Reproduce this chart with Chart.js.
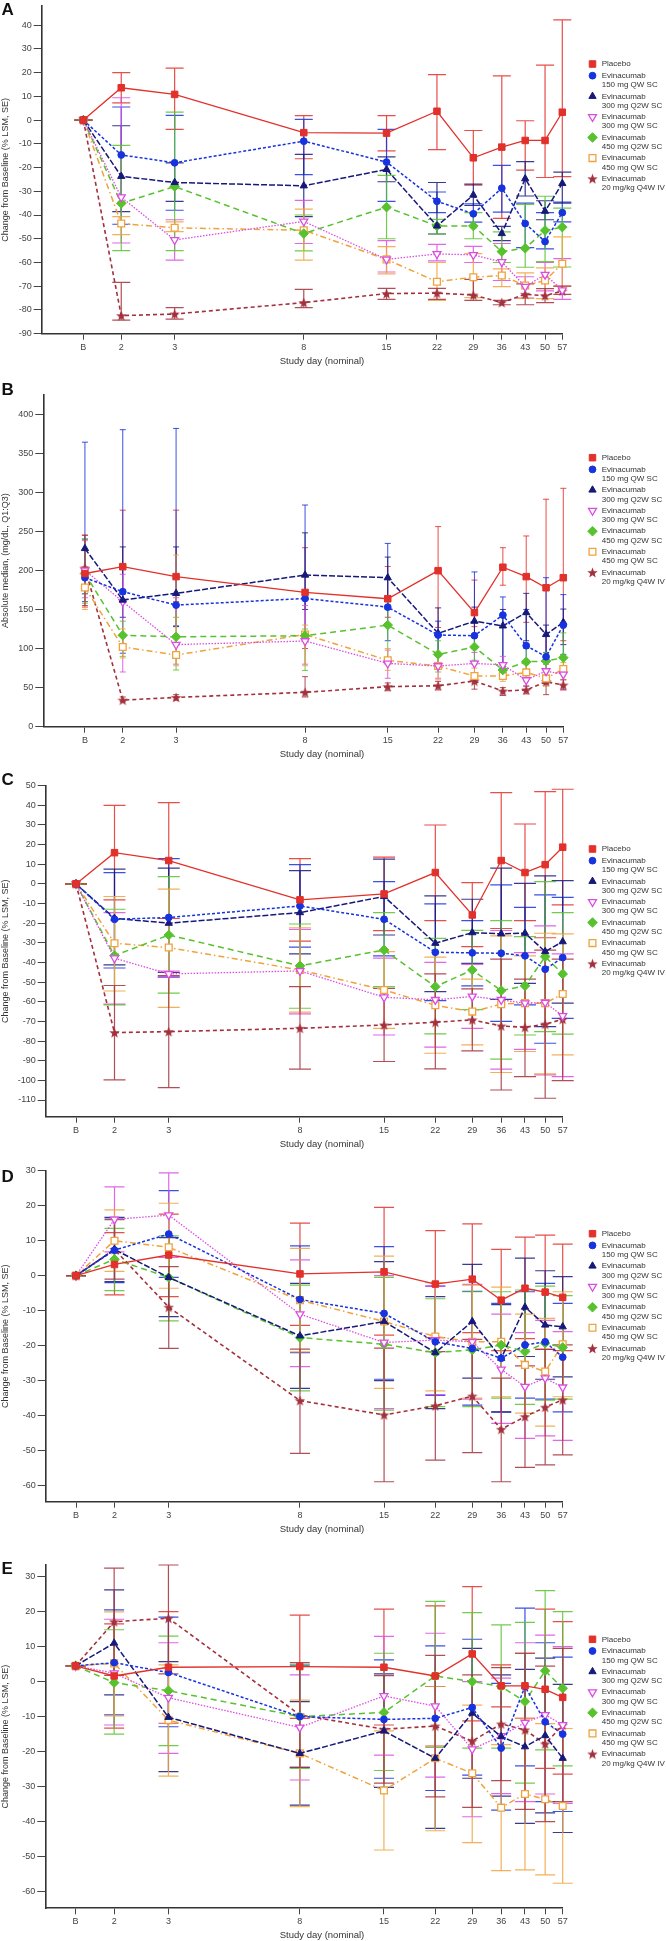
<!DOCTYPE html>
<html>
<head>
<meta charset="utf-8">
<title>Evinacumab by study day</title>
<script src="https://cdn.jsdelivr.net/npm/chart.js@4.4.0/dist/chart.umd.min.js"></script>
<style>
  html, body { margin: 0; padding: 0; background: #fff; }
  body { position: relative; width: 666px; height: 1941px; overflow: hidden; }
  canvas { position: absolute; left: 0; }
</style>
</head>
<body>
<script>
// nominal study day, B = baseline (placed at 1.5 on the log axis)
const dayLabels = ["B", "2", "3", "8", "15", "22", "29", "36", "43", "50", "57"];
const dayValues = [1.5, 2, 3, 8, 15, 22, 29, 36, 43, 50, 57];

const groupNames = [
  ["Placebo"],
  ["Evinacumab", "150 mg QW SC"],
  ["Evinacumab", "300 mg Q2W SC"],
  ["Evinacumab", "300 mg QW SC"],
  ["Evinacumab", "450 mg Q2W SC"],
  ["Evinacumab", "450 mg QW SC"],
  ["Evinacumab", "20 mg/kg Q4W IV"],
];

// ---- panel A: % change, LSM +/- SE ----
const aTicks = [40, 30, 20, 10, 0, -10, -20, -30, -40, -50, -60, -70, -80, -90];
const aMean = [
  [0, 13.6, 10.8, -5.3, -5.5, 3.7, -15.9, -11.4, -8.6, -8.6, 3.3],
  [0, -14.7, -18, -8.9, -17.7, -34.2, -39.5, -28.7, -43.6, -51.2, -39],
  [0, -23.7, -26.3, -27.7, -20.8, -44.6, -31.6, -47.8, -24.7, -38.4, -26.7],
  [0, -32.5, -50.5, -42.7, -58.7, -56.4, -56.8, -59.8, -70.2, -65.1, -71.7],
  [0, -35.1, -28, -47.8, -36.7, -44.6, -44.6, -55.4, -54, -46.5, -45.1],
  [0, -43.6, -45.4, -46.4, -58.7, -68.1, -66.2, -65.5, -69.7, -67.6, -60.5],
  [0, -82.4, -81.7, -76.9, -73.1, -72.9, -73.7, -76.9, -73.4, -74, -72],
];
const aLow = [
  [0, 7.2, -3.9, -16.3, -13, -12.5, -27.4, -41.4, -21.1, -24.2, -23.8],
  [0, -43.9, -38, -23, -34.3, -39, -43, -38.8, -53.7, -54.3, -42.9],
  [0, -38.6, -34.3, -40.7, -26, -48, -36, -50.8, -32, -42, -35],
  [0, -51.8, -59, -52, -64, -59.3, -60, -67.6, -75, -72, -75.5],
  [0, -55, -55, -55.1, -50, -48, -50, -60, -62, -59.6, -61.9],
  [0, -48.3, -47, -59, -64.8, -76, -74.8, -70.2, -75.1, -75.2, -70],
  [0, -84.3, -83.9, -79, -75.5, -75.5, -76, -77.8, -77.8, -76.9, -73.4],
];
const aHigh = [
  [0, 20, 21.9, 1.9, 1.9, 19.1, -4.4, 18.6, -0.3, 23.1, 42.2],
  [0, 5.5, 2, 0.3, -3.9, -30.3, -35.3, -19.1, -35, -39, -34.6],
  [0, -2.4, -18, -14.5, -15.5, -26.3, -27, -44.8, -17.5, -34, -21.9],
  [0, 9.4, -42, -33.8, -50.8, -52.4, -53.2, -52, -66, -60, -58.4],
  [0, -10.7, 3.3, -40, -23.3, -41.8, -39, -47.1, -35.5, -32.1, -37.1],
  [0, -40.7, -42.9, -37.5, -53.3, -60, -56.3, -62.7, -64.4, -62.3, -49.2],
  [0, -68.4, -79, -71.3, -70.9, -70.9, -67.1, -76, -69, -71, -70],
];

// ---- panel B: absolute median, Q1:Q3 ----
const bTicks = [0, 50, 100, 150, 200, 250, 300, 350, 400];
const bMedian = [
  [196, 204.7, 192, 171.8, 163.7, 199.6, 146, 204, 192, 177.8, 190.6],
  [190.6, 172.7, 155.6, 164, 153, 117.3, 116.4, 142.8, 103.6, 89.5, 130],
  [228, 162, 170.6, 194, 190.6, 119.4, 135, 129, 146, 118, 133.5],
  [200, 160, 105, 109.6, 81, 77.6, 81, 79, 59.7, 71.2, 67],
  [196, 117, 115, 116.4, 130, 92.5, 102, 72.5, 83, 84, 88.3],
  [178, 102, 91.7, 118, 84.9, 77.6, 64.8, 65, 69.5, 61.8, 73.8],
  [203, 34, 37.5, 44, 51.2, 52.4, 58.4, 45.6, 47, 57.6, 53.3],
];
const bQ1 = [
  [153, 170, 160, 100, 140, 127, 128, 181, 133.5, 80, 110],
  [160, 94, 129, 120, 110, 90, 80, 66, 70, 55, 92.5],
  [170, 140, 128, 150, 150, 80, 100, 75, 110, 95, 105],
  [165, 70, 80, 80, 62, 62, 60, 62, 52, 58, 48],
  [158, 90, 72.5, 72, 85, 70, 85, 62, 70, 70, 75],
  [150, 88, 78, 78, 72, 60, 55, 58, 58, 52, 60],
  [155, 32, 34, 38, 46, 47, 48, 40, 42, 41, 47],
];
const bQ3 = [
  [245, 277, 277, 229, 205, 256, 187.6, 229, 244, 291, 305],
  [364, 380, 381.6, 283.6, 234.5, 135, 198, 166, 150, 190.6, 169],
  [240, 230, 230, 248, 217, 152, 153, 150, 170.6, 130, 150.5],
  [238, 195, 165, 155, 98, 92, 95, 90, 68, 85, 78],
  [240, 135, 140, 125, 160, 110, 115, 80, 100, 95, 120],
  [205, 125, 219.6, 130, 100, 90, 75, 72, 80, 70, 82],
  [245, 38, 41, 64, 56, 58, 65, 50, 52, 65, 60],
];

// ---- panel C ----
const cTicks = [50, 40, 30, 20, 10, 0, -10, -20, -30, -40, -50, -60, -70, -80, -90, -100, -110];
const cMean = [
  [0, 15.9, 11.9, -8.1, -5.1, 5.8, -15.8, 11.9, 5.8, 9.8, 18.7],
  [0, -18, -17.1, -11.2, -18, -34.8, -35.1, -35.3, -36.6, -43.4, -37.5],
  [0, -17.5, -20, -14.6, -6.4, -30.2, -24.8, -25.4, -25.1, -34.4, -29.4],
  [0, -37.8, -45.8, -44.3, -57.7, -59, -57.3, -59, -60.7, -60.4, -67.2],
  [0, -36.5, -26, -41.7, -33.6, -52.3, -43.8, -54.3, -51.9, -37, -45.8],
  [0, -30.2, -32.4, -43.8, -54, -61.8, -65, -61.2, -60.7, -60.7, -56],
  [0, -75.7, -75.2, -73.5, -71.8, -70.4, -69.2, -72.3, -73, -71.4, -68.9],
];
const cLow = [
  [0, -8.1, -17.6, -29.1, -23.8, -18.7, -31.9, -22.7, -18.7, -27.4, -10.7],
  [0, -42.8, -47.5, -32.2, -36.6, -59.4, -51.9, -70, -61.6, -81.1, -68.4],
  [0, -41.2, -45.1, -35.6, -26, -54.8, -40.4, -58.8, -50.6, -72.6, -60.7],
  [0, -61.2, -47.2, -66.2, -76.9, -83.1, -73.5, -94.3, -84.2, -97.2, -98.1],
  [0, -61.6, -55.6, -63.3, -52.3, -76.3, -64, -89.2, -76.9, -75.2, -76.5],
  [0, -54.5, -62.8, -65.3, -73.5, -86.2, -81.9, -96, -85.3, -96.7, -87],
  [0, -99.8, -103.7, -94.3, -90.4, -94.2, -85, -104.9, -98.1, -109.1, -100.1],
];
const cHigh = [
  [0, 40, 41.4, 12.9, 13.6, 30, 0.7, 46.5, 30.5, 47, 48.2],
  [0, 5.8, 12.9, 9.8, 1.2, -10.2, -18.7, -0.5, -11.9, -5.6, -6.8],
  [0, 7.5, 8, 6.8, 12.6, -6.1, -7.8, 8, 0.3, 4.1, 1.7],
  [0, -14.6, -44.4, -23.1, -37.8, -39.9, -41, -23.7, -35, -21.4, -35.6],
  [0, -12.9, 3.7, -20.4, -14.6, -27.7, -23.6, -18.7, -26.8, 1.2, -14.6],
  [0, -6.4, -2.7, -22.3, -34.5, -37.3, -48.5, -26.4, -36.6, -25.1, -25.4],
  [0, -51.7, -46.7, -52.3, -53.2, -45.8, -53.4, -38.3, -48.5, -33.7, -38.3],
];

// ---- panel D ----
const dTicks = [30, 20, 10, 0, -10, -20, -30, -40, -50, -60];
const dMean = [
  [0, 3.2, 5.9, 0.5, 1.1, -2.4, -1, -7, -3.6, -4.7, -6.2],
  [0, 7.3, 11.9, -6.8, -10.8, -18.9, -20.8, -23.6, -19.8, -18.9, -23.3],
  [0, 7.5, -0.5, -17.2, -13.1, -22, -13.1, -23.6, -9, -14.1, -14.6],
  [0, 16.1, 17.3, -11, -19.1, -18.4, -18.9, -26.8, -31.7, -29.3, -31.9],
  [0, 4.7, -0.5, -17.7, -19.6, -22, -21.2, -19.8, -21.7, -19.3, -20.5],
  [0, 10, 8.1, -7, -13.1, -17.4, -18.9, -18.9, -25.5, -27.4, -19.6],
  [0, 7.5, -9, -35.7, -39.8, -37.2, -34.4, -43.9, -40.3, -37.6, -35.5],
];
const dLow = [
  [0, -5.5, -6, -14.2, -17, -17.7, -16.3, -21.4, -18, -21, -21.4],
  [0, -2, -0.5, -22, -29.6, -34.2, -37, -39, -35, -35.3, -38.9],
  [0, -1.7, -11.7, -32.2, -30, -38, -29.3, -38.9, -23.1, -29.6, -28.9],
  [0, 6.8, 5.2, -26, -38, -34, -35.3, -42.2, -46.5, -45.8, -47.1],
  [0, -4.3, -12.9, -32.9, -38.4, -37.4, -37.4, -35, -36.8, -35.6, -35.3],
  [0, 1.2, -3.6, -21.8, -32.2, -32.9, -35, -34.6, -39.3, -43, -34.6],
  [0, -1, -20.8, -50.8, -58.9, -52.7, -50.6, -58.9, -54.8, -54.1, -51.2],
];
const dHigh = [
  [0, 12.3, 17.6, 15, 19.5, 12.9, 14.8, 7.5, 11, 11.6, 9],
  [0, 16.5, 24.3, 8.5, 8.3, -3, -4.5, -7.9, -4.6, -2.2, -7.9],
  [0, 16.7, 10.9, -2.2, 4, -6, 3.2, -8.3, 5, 1.4, -0.3],
  [0, 25.4, 29.4, 4.5, 0, -3, -2.5, -11, -16.3, -12.8, -16],
  [0, 13.5, 11.4, -2.7, -0.5, -6.6, -4.6, -4.6, -4.1, -3, -5.7],
  [0, 18.8, 20.7, 7.8, 5.6, -2, -2.7, -3.3, -11, -12.2, -4.6],
  [0, 16, 2.6, -21, -20.7, -21.7, -18.2, -29.3, -25.8, -21.1, -19.8],
];

// ---- panel E ----
const eTicks = [30, 20, 10, 0, -10, -20, -30, -40, -50, -60];
const eMean = [
  [4.5, 1.6, 4.1, 4.3, 4.1, 1.6, 7.9, -1.2, -1.2, -2.2, -4.5],
  [4.5, 5.4, 2.6, -10, -10.8, -10.5, -7.4, -19, -1.4, -11.5, -15],
  [4.5, 11, -10.2, -20.5, -14.1, -21.9, -9, -15.7, -18.6, -15.4, -21.9],
  [4.5, 2.4, -4.6, -13.1, -4.1, -7, -19.3, -15.5, -11.7, -9.5, -12.4],
  [4.5, -0.3, -2.6, -10, -8.8, 1.6, 0, -1.4, -5.7, 3.1, -1.9],
  [4.5, 5.2, -11, -20.5, -31.1, -21.9, -26.2, -36, -32.1, -33.6, -35.5],
  [4.5, 17.1, 18.1, -9.5, -13.6, -12.7, -17, -12.1, -13.8, -17.8, -12.4],
];
const eLow = [
  [4.5, -13.3, -11.9, -10.5, -12.4, -18.4, -11.2, -7.2, -10.5, -24.8, -26.4],
  [4.5, -9.5, -12.9, -24.5, -27.6, -31.1, -26.7, -36.7, -24.1, -34.3, -37.1],
  [4.5, -3.8, -25.7, -35.3, -30.2, -41.9, -27.6, -32.7, -40.5, -37.5, -43.1],
  [4.5, -12.4, -20.5, -28.1, -21, -27.3, -38.6, -32, -34.3, -32.1, -34.8],
  [4.5, -15, -18.3, -24.8, -25.4, -18.8, -19, -19, -29, -19.5, -24.1],
  [4.5, -9.8, -27, -35.7, -48.1, -42.6, -46, -54, -53.8, -55.2, -57.6],
  [4.5, 1.8, 2.2, -24.5, -29, -32.9, -35.9, -28.3, -36.5, -40, -34.3],
];
const eHigh = [
  [4.5, 16.5, 20, 19, 20.7, 21.6, 27.1, 4.8, 8.1, 20.7, 17.1],
  [4.5, 20.5, 18.4, 4.5, 6.2, 10.2, 12.1, -0.5, 21, 11.1, 7],
  [4.5, 26.2, 5.7, -5.7, 2.2, -1.4, 9.5, 1.9, 3.5, 6.7, -0.8],
  [4.5, 17.8, 11.1, 1.9, 12.9, 13.8, 0, 1, 11.1, 13.3, 10],
  [4.5, 14.8, 13, 4.9, 8.1, 22.9, 19.7, 16.2, 16.9, 26, 20],
  [4.5, 19.9, 4.8, -5.3, -14.1, -1.4, -6.7, -18, -10.5, -12, -13.4],
  [4.5, 32.4, 33.3, 5.4, 1.7, 7.5, 1.9, 4, 8.1, 4.4, 9.5],
];

// ---- styles ----
Chart.defaults.font.family = "'Liberation Sans', Arial, Helvetica, sans-serif";
Chart.defaults.color = "#333";

function makeStar(color, size) {
  const c = document.createElement("canvas");
  c.width = size;
  c.height = size;
  const g = c.getContext("2d");
  g.fillStyle = color;
  g.beginPath();
  for (let k = 0; k < 10; k++) {
    const r = k % 2 ? size * 0.21 : size * 0.5;
    const a = -Math.PI / 2 + (k * Math.PI) / 5;
    g.lineTo(size / 2 + r * Math.cos(a), size / 2 + r * Math.sin(a) + 0.5);
  }
  g.closePath();
  g.fill();
  return c;
}

const seriesStyle = [
  { color: "#e2302a", point: "rect", radius: 4.6, hollow: false, dash: [], width: 1.3 },
  { color: "#1733e0", point: "circle", radius: 3.4, hollow: false, dash: [3, 2], width: 1.5 },
  { color: "#17197a", point: "triangle", radius: 4.2, hollow: false, dash: [6, 2], width: 1.5 },
  { color: "#dc4ce2", point: "triangle", rotation: 180, radius: 4.6, hollow: true, dash: [1.5, 1.5], width: 1.3 },
  { color: "#58c22e", point: "rectRot", radius: 4.8, hollow: false, dash: [6, 4], width: 1.5 },
  { color: "#f0a33c", point: "rect", radius: 4.8, hollow: true, dash: [6, 3, 1.5, 3], width: 1.5 },
  { color: "#a3303c", point: makeStar("#a3303c", 11), radius: 5, hollow: false, dash: [4, 3], width: 1.6 },
];

const panels = [
  { letter: "A", yTitle: "Change from Baseline (% LSM, SE)", mean: aMean, low: aLow, high: aHigh, ticks: aTicks,
    top: 0, height: 378, plotTop: 1.4, plotBottom: 333.7, axisX: 41.7, plotRight: 562.3, xMin: 1.093,
    yMin: -90, yMax: 48, legendY: 64, letterY: 15, cap: 9, barWidth: 1.2 },
  { letter: "B", yTitle: "Absolute median, (mg/dL, Q1:Q3)", mean: bMedian, low: bQ1, high: bQ3, ticks: bTicks,
    top: 380, height: 391, plotTop: 394.5, plotBottom: 726.7, axisX: 43.3, plotRight: 563.3, xMin: 1.093,
    yMin: 0, yMax: 425, legendY: 77.7, letterY: 15, cap: 3, barWidth: 1 },
  { letter: "C", yTitle: "Change from Baseline (% LSM, SE)", mean: cMean, low: cLow, high: cHigh, ticks: cTicks,
    top: 771, height: 390, plotTop: 785.7, plotBottom: 1116.7, axisX: 45.7, plotRight: 562.7, xMin: 1.196,
    yMin: -118.5, yMax: 50, legendY: 78, letterY: 14, cap: 11, barWidth: 1.2 },
  { letter: "D", yTitle: "Change from Baseline (% LSM, SE)", mean: dMean, low: dLow, high: dHigh, ticks: dTicks,
    top: 1161, height: 385, plotTop: 1170.7, plotBottom: 1501.7, axisX: 45.7, plotRight: 562.7, xMin: 1.196,
    yMin: -64.6, yMax: 30, legendY: 72.7, letterY: 21, cap: 10, barWidth: 1.2 },
  { letter: "E", yTitle: "Change from Baseline (% LSM, SE)", mean: eMean, low: eLow, high: eHigh, ticks: eTicks,
    top: 1546, height: 395, plotTop: 1565, plotBottom: 1908.3, axisX: 45.3, plotRight: 562.7, xMin: 1.196,
    yMin: -64.75, yMax: 33.3, legendY: 93.3, letterY: 28, cap: 10, barWidth: 1.2 },
];

// error bars under the markers
const errorBars = {
  id: "errorBars",
  beforeDatasetsDraw(chart, args, opts) {
    const ctx = chart.ctx;
    const y = chart.scales.y;
    chart.data.datasets.forEach((ds, i) => {
      const meta = chart.getDatasetMeta(i);
      ctx.save();
      ctx.strokeStyle = ds.borderColor;
      ctx.globalAlpha = 0.85;
      ctx.lineWidth = opts.width;
      meta.data.forEach((pt, j) => {
        const top = y.getPixelForValue(ds.errHigh[j]);
        const bot = y.getPixelForValue(ds.errLow[j]);
        ctx.beginPath();
        ctx.moveTo(pt.x, top);
        ctx.lineTo(pt.x, bot);
        ctx.moveTo(pt.x - opts.cap, top);
        ctx.lineTo(pt.x + opts.cap, top);
        ctx.moveTo(pt.x - opts.cap, bot);
        ctx.lineTo(pt.x + opts.cap, bot);
        ctx.stroke();
      });
      ctx.restore();
    });
  },
};

const sideLegend = {
  id: "sideLegend",
  afterDraw(chart, args, opts) {
    const ctx = chart.ctx;
    let y = opts.y;
    chart.data.datasets.forEach((ds, i) => {
      ctx.save();
      ctx.fillStyle = ds.pointBackgroundColor;
      ctx.strokeStyle = ds.pointBorderColor;
      ctx.lineWidth = ds.pointBorderWidth;
      Chart.helpers.drawPoint(ctx, {
        pointStyle: ds.pointStyle,
        rotation: ds.pointRotation || 0,
        radius: ds.pointRadius,
        borderWidth: ds.pointBorderWidth,
      }, 592.5, y);
      ctx.fillStyle = "#333";
      ctx.font = "8px 'Liberation Sans', Arial, sans-serif";
      ctx.textBaseline = "middle";
      groupNames[i].forEach((t, k) => ctx.fillText(t, 601.7, y + k * 9.3));
      ctx.restore();
      y += i === 0 ? 11.7 : 20.6;
    });
  },
};

const panelText = {
  id: "panelText",
  afterDraw(chart, args, opts) {
    const ctx = chart.ctx;
    ctx.save();
    ctx.fillStyle = "#111";
    ctx.font = "bold 17px 'Liberation Sans', Arial, sans-serif";
    ctx.textBaseline = "alphabetic";
    ctx.fillText(opts.letter, 1.5, opts.letterY);
    ctx.fillStyle = "#333";
    ctx.font = "9.5px 'Liberation Sans', Arial, sans-serif";
    ctx.textAlign = "center";
    ctx.textBaseline = "middle";
    ctx.fillText("Study day (nominal)", 322, chart.chartArea.bottom + 27.5);
    ctx.restore();
  },
};

panels.forEach((p) => {
  const canvas = document.createElement("canvas");
  canvas.width = 666;
  canvas.height = p.height;
  canvas.style.top = p.top + "px";
  document.body.appendChild(canvas);

  const xHeight = p.top + p.height - p.plotBottom;

  const datasets = p.mean.map((row, i) => {
    const s = seriesStyle[i];
    return {
      label: groupNames[i].join(" "),
      data: dayValues.map((d, j) => ({ x: d, y: row[j] })),
      errLow: p.low[i],
      errHigh: p.high[i],
      borderColor: s.color,
      borderWidth: s.width,
      borderDash: s.dash,
      pointStyle: s.point,
      pointRotation: s.rotation || 0,
      pointRadius: s.radius,
      pointBackgroundColor: s.hollow ? "#ffffff" : s.color,
      pointBorderColor: s.color,
      pointBorderWidth: s.hollow ? 1.3 : 1,
      tension: 0,
      fill: false,
      clip: false,
    };
  });

  new Chart(canvas, {
    type: "line",
    data: { datasets },
    options: {
      responsive: false,
      maintainAspectRatio: false,
      devicePixelRatio: 1,
      animation: false,
      events: [],
      layout: { padding: { top: p.plotTop - p.top, left: 0, right: 666 - p.plotRight, bottom: 0 } },
      scales: {
        x: {
          type: "logarithmic",
          min: p.xMin,
          max: 57,
          bounds: "data",
          afterBuildTicks: (s) => {
            s.ticks = dayValues.map((v) => ({ value: v }));
          },
          afterFit: (s) => {
            s.height = xHeight;
            s.paddingLeft = 0;
            s.paddingRight = 0;
          },
          ticks: {
            autoSkip: false,
            maxRotation: 0,
            padding: 2,
            color: "#444",
            font: { size: 9 },
            callback: (v, i) => dayLabels[i],
          },
          grid: { drawOnChartArea: false, tickLength: 6, color: "#444", lineWidth: 1 },
          border: { color: "#333", width: 1.6 },
        },
        y: {
          type: "linear",
          min: p.yMin,
          max: p.yMax,
          afterBuildTicks: (s) => {
            s.ticks = p.ticks.slice().sort((a, b) => a - b).map((v) => ({ value: v }));
          },
          afterFit: (s) => {
            s.width = p.axisX;
            s.paddingTop = 0;
            s.paddingBottom = 0;
          },
          ticks: { padding: 2, color: "#444", font: { size: 9 }, callback: (v) => String(v) },
          grid: { drawOnChartArea: false, tickLength: 8, color: "#444", lineWidth: 1 },
          border: { color: "#333", width: 1.6 },
          title: { display: true, text: p.yTitle, color: "#333", font: { size: 9 }, padding: 0 },
        },
      },
      plugins: {
        legend: { display: false },
        tooltip: { enabled: false },
        errorBars: { cap: p.cap, width: p.barWidth },
        sideLegend: { y: p.legendY - p.top + p.top },
        panelText: { letter: p.letter, letterY: p.letterY },
      },
    },
    plugins: [errorBars, sideLegend, panelText],
  });
});
</script>
</body>
</html>
